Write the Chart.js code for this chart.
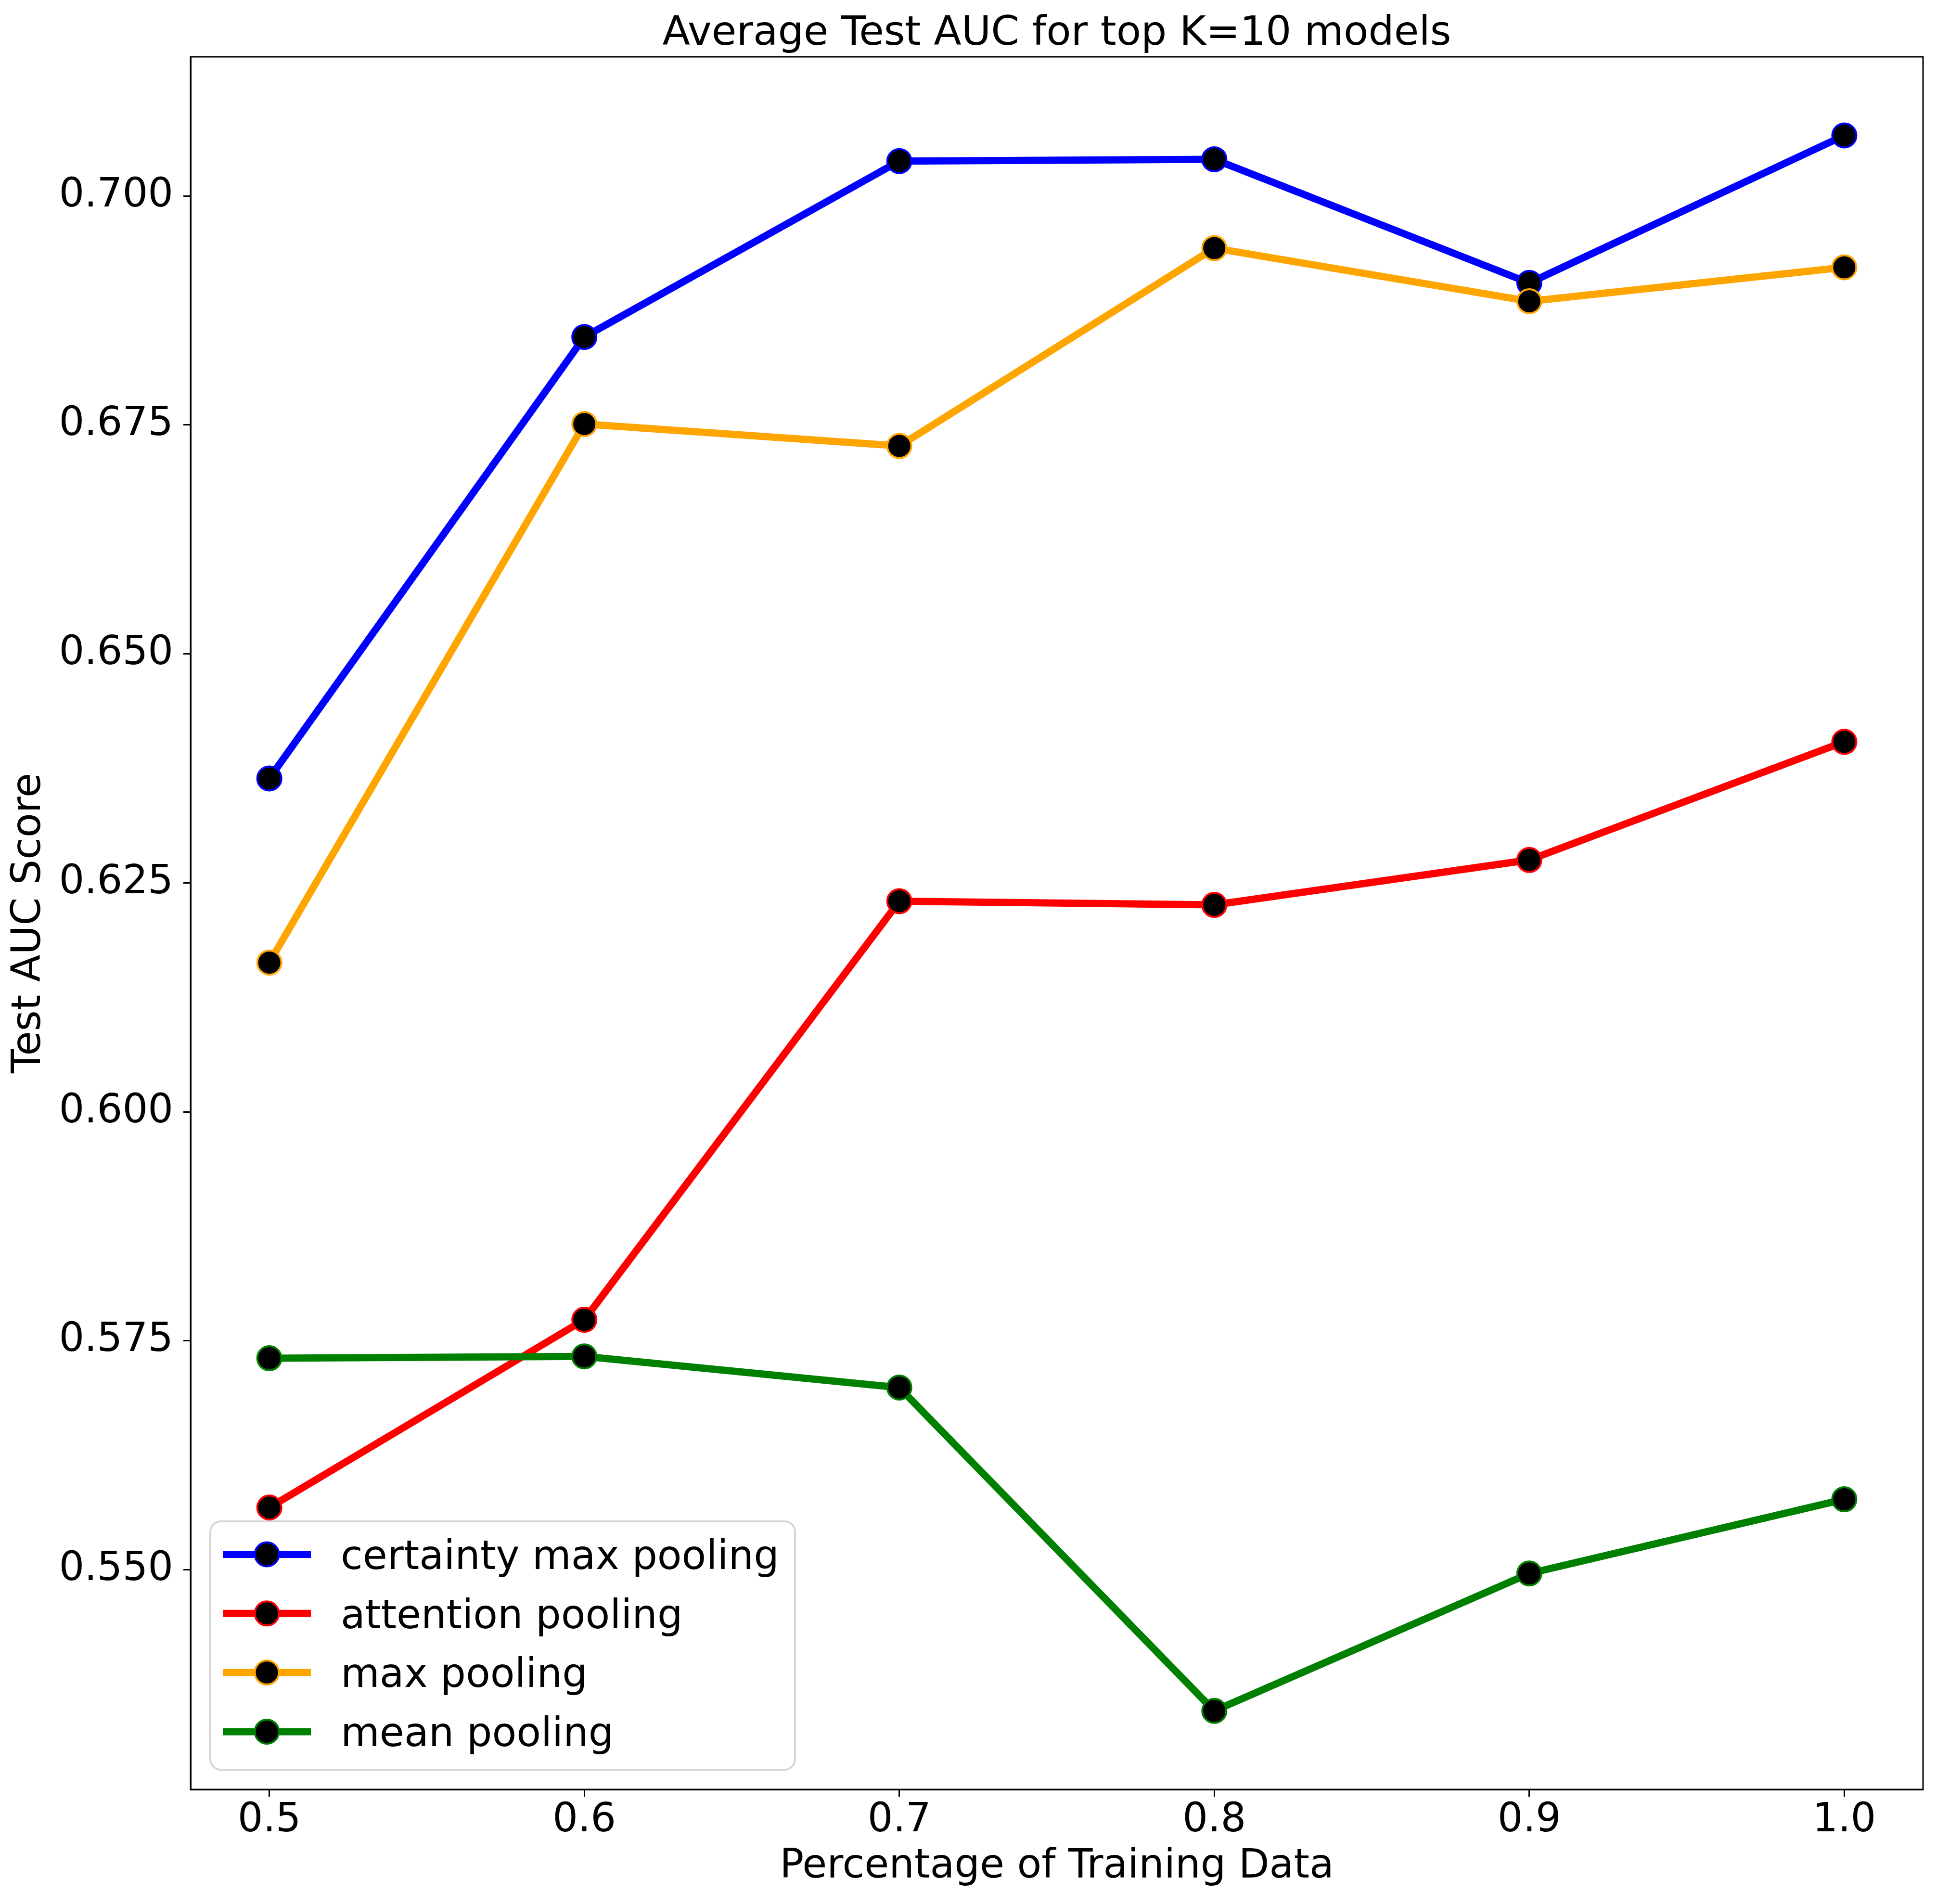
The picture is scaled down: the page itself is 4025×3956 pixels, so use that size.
<!DOCTYPE html>
<html>
<head>
<meta charset="utf-8">
<script src="https://cdn.jsdelivr.net/npm/chart.js@4.4.1/dist/chart.umd.min.js"></script>
<style>
  html, body { margin: 0; padding: 0; background: #ffffff; }
  #wrap { width: 4025px; height: 3956px; }
</style>
</head>
<body>
<div id="wrap"><canvas id="c" width="4025" height="3956"></canvas></div>
<script>
// ---- data ----
const chartTitle = "Average Test AUC for top K=10 models";
const xAxisTitle = "Percentage of Training Data";
const yAxisTitle = "Test AUC Score";
const trainFractions = [0.5, 0.6, 0.7, 0.8, 0.9, 1.0];
const seriesNames = ["certainty max pooling", "attention pooling", "max pooling", "mean pooling"];
const certaintyMaxPooling = [0.6364, 0.6846, 0.7038, 0.7040, 0.6905, 0.7066];
const attentionPooling    = [0.5568, 0.5773, 0.6230, 0.6226, 0.6275, 0.6404];
const maxPooling          = [0.6163, 0.6751, 0.6727, 0.6943, 0.6885, 0.6922];
const meanPooling         = [0.5731, 0.5733, 0.5699, 0.5346, 0.5496, 0.5577];
const seriesColors = ["#0000ff", "#ff0000", "#ffa500", "#008000"];
const xTicks = [0.5, 0.6, 0.7, 0.8, 0.9, 1.0];
const xTickLabels = ["0.5", "0.6", "0.7", "0.8", "0.9", "1.0"];
const yTicks = [0.550, 0.575, 0.600, 0.625, 0.650, 0.675, 0.700];
const yTickLabels = ["0.550", "0.575", "0.600", "0.625", "0.650", "0.675", "0.700"];
const xRange = [0.475, 1.025];
const yRange = [0.52602, 0.71519];

const FONT = "DejaVu Sans";
const FS = 83;
const TITLE_FS = 84;

const allSeries = [certaintyMaxPooling, attentionPooling, maxPooling, meanPooling];
const datasets = allSeries.map((vals, i) => ({
  label: seriesNames[i],
  data: trainFractions.map((x, j) => ({ x: x, y: vals[j] })),
  borderColor: seriesColors[i],
  backgroundColor: seriesColors[i],
  borderWidth: 15,
  borderJoinStyle: 'round',
  borderCapStyle: 'butt',
  pointRadius: 25,
  pointHoverRadius: 25,
  pointBorderWidth: 4,
  pointBackgroundColor: '#000000',
  pointBorderColor: seriesColors[i],
  tension: 0,
  fill: false,
  order: allSeries.length - i,
  clip: false
}));

const framePlugin = {
  id: 'frame',
  afterDatasetsDraw(chart) {
    const { ctx, chartArea: a } = chart;
    ctx.save();
    ctx.strokeStyle = '#000000';
    ctx.lineWidth = 3;
    ctx.strokeRect(a.left, a.top, a.right - a.left, a.bottom - a.top);
    ctx.restore();
  }
};

const titlePlugin = {
  id: 'mplTitle',
  afterDraw(chart) {
    const { ctx, chartArea: a } = chart;
    ctx.save();
    ctx.fillStyle = '#000000';
    ctx.font = `${TITLE_FS}px "${FONT}"`;
    ctx.textAlign = 'center';
    ctx.textBaseline = 'alphabetic';
    ctx.fillText(chartTitle, (a.left + a.right) / 2, 93);
    ctx.restore();
  }
};

const legendPlugin = {
  id: 'mplLegend',
  afterDraw(chart) {
    const { ctx } = chart;
    const box = { left: 437, top: 3161, right: 1652, bottom: 3677, r: 22 };
    ctx.save();
    ctx.beginPath();
    ctx.roundRect(box.left, box.top, box.right - box.left, box.bottom - box.top, box.r);
    ctx.fillStyle = 'rgba(255,255,255,0.8)';
    ctx.fill();
    ctx.strokeStyle = '#d6d6d6';
    ctx.lineWidth = 4;
    ctx.stroke();
    const rowY0 = 3229.5, rowStep = 122.8;
    chart.data.datasets.forEach((ds, i) => {
      const cy = rowY0 + i * rowStep;
      ctx.beginPath();
      ctx.moveTo(463, cy);
      ctx.lineTo(646, cy);
      ctx.strokeStyle = ds.borderColor;
      ctx.lineWidth = ds.borderWidth;
      ctx.lineCap = 'butt';
      ctx.stroke();
      ctx.beginPath();
      ctx.arc(554.5, cy, ds.pointRadius, 0, Math.PI * 2);
      ctx.fillStyle = ds.pointBackgroundColor;
      ctx.fill();
      ctx.lineWidth = ds.pointBorderWidth;
      ctx.strokeStyle = ds.pointBorderColor;
      ctx.stroke();
      ctx.fillStyle = '#000000';
      ctx.font = `${FS}px "${FONT}"`;
      ctx.textAlign = 'left';
      ctx.textBaseline = 'alphabetic';
      ctx.fillText(ds.label, 708, cy + 30.3);
    });
    ctx.restore();
  }
};

new Chart(document.getElementById('c'), {
  type: 'line',
  data: { datasets: datasets },
  plugins: [framePlugin, titlePlugin, legendPlugin],
  options: {
    responsive: false,
    devicePixelRatio: 1,
    animation: false,
    events: [],
    layout: { padding: { left: 0, top: 118, right: 28, bottom: 0 } },
    plugins: {
      legend: { display: false },
      title: { display: false },
      tooltip: { enabled: false }
    },
    scales: {
      x: {
        type: 'linear',
        position: 'bottom',
        min: xRange[0],
        max: xRange[1],
        afterFit(scale) { scale.height = 3956 - 3718; },
        afterBuildTicks(scale) { scale.ticks = xTicks.map(v => ({ value: v })); },
        grid: { display: true, drawOnChartArea: false, drawTicks: true, tickLength: 15, tickWidth: 3, tickColor: '#000000' },
        border: { display: true, color: '#000000', width: 3 },
        ticks: {
          autoSkip: false,
          maxRotation: 0,
          padding: 1,
          color: '#000000',
          font: { family: FONT, size: FS, lineHeight: 1.2 },
          callback: (v, idx) => xTickLabels[idx]
        },
        title: {
          display: true,
          text: xAxisTitle,
          color: '#000000',
          font: { family: FONT, size: FS, lineHeight: 1.2 },
          padding: { top: 0, bottom: 27 }
        }
      },
      y: {
        type: 'linear',
        position: 'left',
        min: yRange[0],
        max: yRange[1],
        afterFit(scale) { scale.width = 396; },
        afterBuildTicks(scale) { scale.ticks = yTicks.map(v => ({ value: v })); },
        grid: { display: true, drawOnChartArea: false, drawTicks: true, tickLength: 15, tickWidth: 3, tickColor: '#000000' },
        border: { display: true, color: '#000000', width: 3 },
        ticks: {
          autoSkip: false,
          padding: 21,
          color: '#000000',
          font: { family: FONT, size: FS, lineHeight: 1.2 },
          callback: (v, idx) => yTickLabels[idx]
        },
        title: {
          display: true,
          text: yAxisTitle,
          color: '#000000',
          font: { family: FONT, size: FS, lineHeight: 1.2 },
          padding: { top: 12, bottom: 0 }
        }
      }
    }
  }
});
</script>
</body>
</html>
